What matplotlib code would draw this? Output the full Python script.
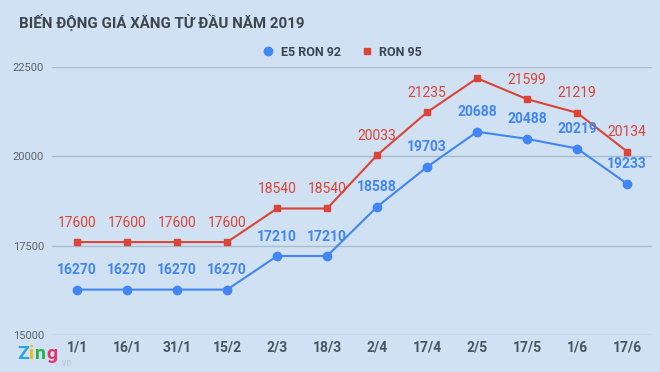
import matplotlib
matplotlib.use("Agg")
import matplotlib.pyplot as plt

dates = ["1/1", "16/1", "31/1", "15/2", "2/3", "18/3", "2/4", "17/4", "2/5", "17/5", "1/6", "17/6"]
e5_ron92 = [16270, 16270, 16270, 16270, 17210, 17210, 18588, 19703, 20688, 20488, 20219, 19233]
ron95 = [17600, 17600, 17600, 17600, 18540, 18540, 20033, 21235, 22185, 21599, 21219, 20134]
ron95_labels = ["17600", "17600", "17600", "17600", "18540", "18540", "20033", "21235", "", "21599", "21219", "20134"]
yticks = [15000, 17500, 20000, 22500]

bg = "#cfe1f3"
blue = "#4285f4"
red = "#db4437"

plt.rcParams['font.family'] = ['Roboto', 'DejaVu Sans']
fig = plt.figure(figsize=(6.6, 3.72), dpi=100, facecolor=bg)
ax = fig.add_axes([0.079, 0.0995, 0.909, 0.7204], facecolor=bg)

x = list(range(len(dates)))
ax.plot(x, ron95, color=red, lw=1.5, marker="s", ms=5, label="RON 95", zorder=3)
ax.plot(x, e5_ron92, color=blue, lw=1.5, marker="o", ms=6, label="E5 RON 92", zorder=3)

for xi, v, lab in zip(x, ron95, ron95_labels):
    if lab:
        ax.annotate(lab, (xi, v), xytext=(0, 9), textcoords="offset points",
                    ha="center", va="bottom", color=red, fontsize=10)
for xi, v in zip(x, e5_ron92):
    ax.annotate(str(v), (xi, v), xytext=(0, 9), textcoords="offset points",
                ha="center", va="bottom", color=blue, fontsize=10, fontweight="bold")

ax.set_xlim(-0.5, len(dates) - 0.5)
ax.set_ylim(15000, 22500)
ax.set_yticks(yticks)
ax.set_yticklabels([str(t) for t in yticks], fontsize=8, color="#5f6368")
ax.set_xticks(x)
ax.set_xticklabels(dates, fontsize=10, fontweight="bold", color="#4a5560")
ax.grid(axis="y", color="#a9bccf", lw=1)
ax.set_axisbelow(True)
for s in ax.spines.values():
    s.set_visible(False)
ax.tick_params(axis="both", length=0)
ax.tick_params(axis="y", pad=6)
ax.tick_params(axis="x", pad=4)

fig.text(0.029, 0.94, "BIẾN ĐỘNG GIÁ XĂNG TỪ ĐẦU NĂM 2019", fontsize=10.8, fontweight="bold",
         color="#3d4650", va="center")

handles, labels = ax.get_legend_handles_labels()
leg = fig.legend(handles[::-1], labels[::-1], loc="center", bbox_to_anchor=(0.518, 0.86), ncol=2,
                 frameon=False, fontsize=9, handlelength=1.0, columnspacing=1.6, handletextpad=0.5)
for h in leg.legend_handles:
    h.set_linestyle("none")
for t in leg.get_texts():
    t.set_color("#3d4650")
    t.set_fontweight("bold")

# Zing watermark
renderer = fig.canvas.get_renderer()
zx = 17 / 660
for ch, col in zip("Zing", ["#2aa3e6", "#f7b500", "#22b24c", "#e8336b"]):
    t = fig.text(zx, 1 - 354 / 372, ch, fontsize=14, fontweight="bold", color=col, va="center")
    bb = t.get_window_extent(renderer)
    zx = (bb.x1 + 0.5) / 660
fig.text(zx + 0.002, 1 - 363 / 372, ".vn", fontsize=7, color="#bcc6d0", va="center")

fig.savefig("out.png", dpi=100, facecolor=bg)
